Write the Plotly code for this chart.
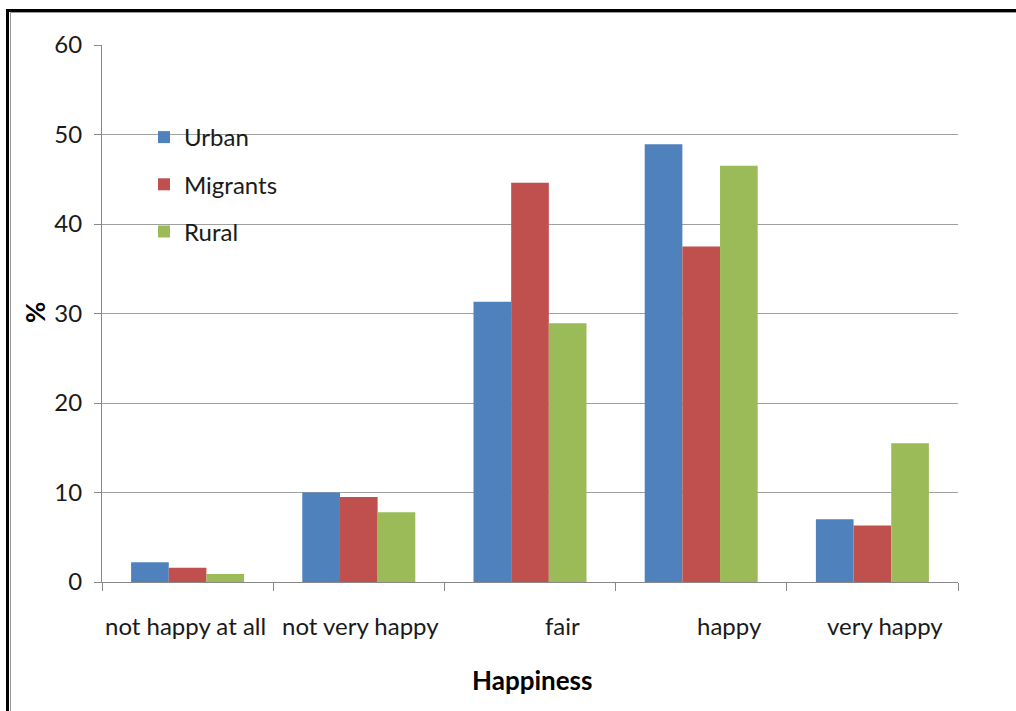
import plotly.graph_objects as go

categories = ["not happy at all", "not very happy", "fair", "happy", "very happy"]
urban = [2.2, 10.0, 31.3, 48.9, 7.0]
migrants = [1.6, 9.5, 44.6, 37.5, 6.3]
rural = [0.9, 7.8, 28.9, 46.5, 15.5]
series_names = ["Urban", "Migrants", "Rural"]
y_ticks = [0, 10, 20, 30, 40, 50, 60]
x_title = "Happiness"
y_title = "%"

colors = ["#4F81BD", "#C0504D", "#9BBB59"]
label_shift = [-2, 2, 32, 28, 13]

W, H = 1016, 711
L, R, T, B = 102, 58, 45, 129
PW, PH = W - L - R, H - T - B

def px(x):
    return (x - L) / PW

def py(y):
    return (H - B - y) / PH

FONT = "Lato"
TXT = "#1a1a1a"

fig = go.Figure()
for name, vals, col in zip(series_names, [urban, migrants, rural], colors):
    fig.add_trace(go.Bar(x=categories, y=vals, name=name, marker=dict(color=col, line=dict(width=0)),
                         legendgroup=name))

annotations = []
for cat, sh in zip(categories, label_shift):
    annotations.append(dict(x=cat, xref="x", y=0, yref="paper", yshift=-43, xshift=sh,
                            text=cat, showarrow=False, yanchor="middle", xanchor="center",
                            font=dict(family=FONT, size=24, color=TXT)))
annotations.append(dict(x=px(532), xref="paper", y=py(680), yref="paper", text="<b>%s</b>" % x_title,
                        showarrow=False, xanchor="center", yanchor="middle",
                        font=dict(family=FONT, size=26, color="#000")))
annotations.append(dict(x=px(35), xref="paper", y=py(313), yref="paper", text="<b>%s</b>" % y_title,
                        showarrow=False, xanchor="center", yanchor="middle", textangle=-90,
                        font=dict(family=FONT, size=26, color="#000")))

shapes = [
    dict(type="line", xref="paper", yref="paper", x0=px(6), x1=px(1016), y0=py(10.5), y1=py(10.5),
         line=dict(color="#000", width=3)),
    dict(type="line", xref="paper", yref="paper", x0=px(7.5), x1=px(7.5), y0=py(9), y1=py(711),
         line=dict(color="#000", width=3)),
    dict(type="line", xref="paper", yref="paper", x0=px(10), x1=px(1016), y0=py(12.5), y1=py(12.5),
         line=dict(color="#999", width=1)),
    dict(type="line", xref="paper", yref="paper", x0=px(10.5), x1=px(10.5), y0=py(12), y1=py(711),
         line=dict(color="#999", width=1)),
]

fig.update_layout(
    width=W, height=H, autosize=False,
    margin=dict(l=L, r=R, t=T, b=B, pad=0),
    paper_bgcolor="white", plot_bgcolor="white",
    barmode="group", bargap=0.34, bargroupgap=0,
    font=dict(family=FONT, size=23, color=TXT),
    showlegend=True,
    legend=dict(x=px(144), y=py(115), xanchor="left", yanchor="top", bgcolor="rgba(0,0,0,0)",
                font=dict(family=FONT, size=24, color=TXT), tracegroupgap=13, itemwidth=30),
    xaxis=dict(type="category", showticklabels=False, ticks="outside", tickson="boundaries",
               ticklen=8, tickcolor="#888", tickwidth=1, showline=True, linecolor="#888",
               linewidth=1, showgrid=False, zeroline=False),
    yaxis=dict(range=[0, 60], tickvals=y_ticks, ticks="outside", ticklen=7, tickcolor="#888",
               showline=True, linecolor="#888", linewidth=1, showgrid=True, gridcolor="#a0a0a0",
               gridwidth=1, zeroline=False, ticklabelstandoff=7,
               tickfont=dict(family=FONT, size=24, color=TXT)),
    annotations=annotations,
    shapes=shapes,
)

fig.write_html("out.html")
